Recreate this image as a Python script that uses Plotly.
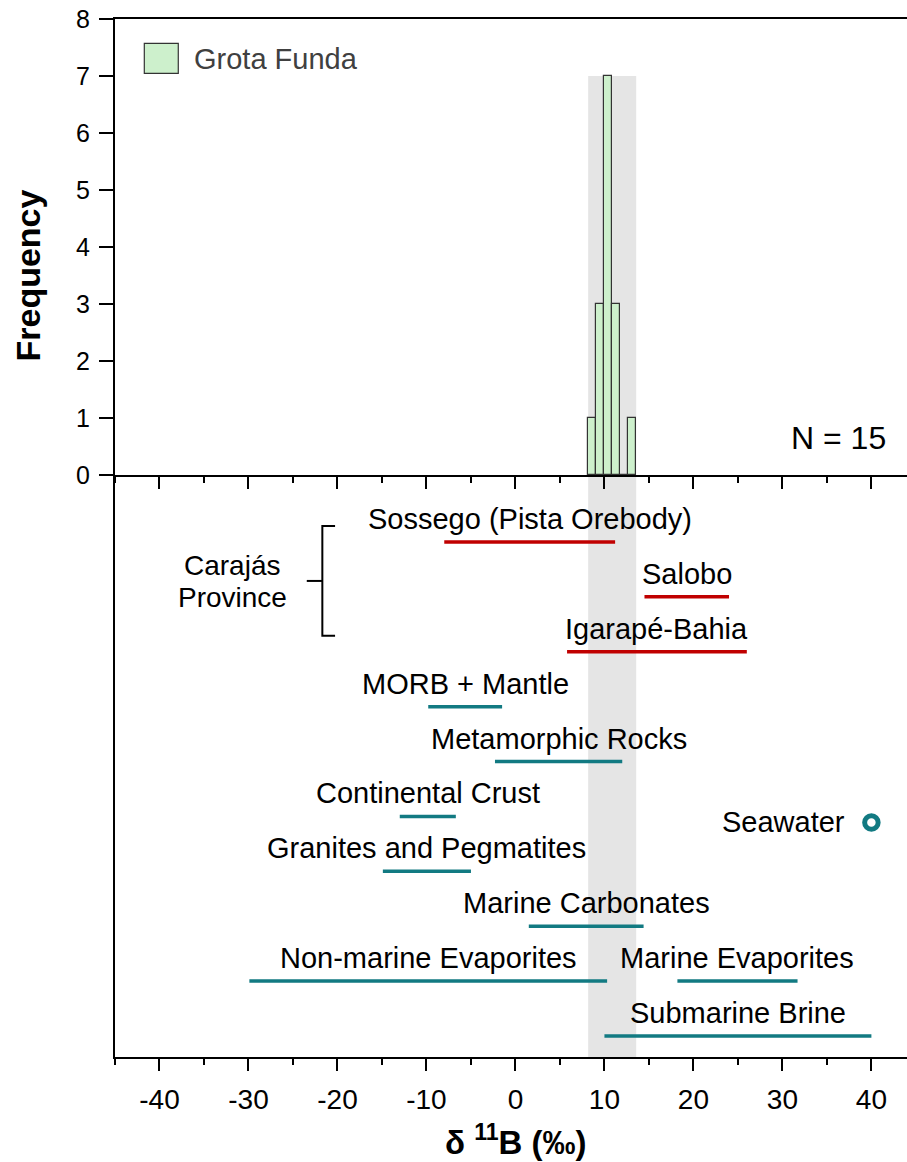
import plotly.graph_objects as go

# --- Grota Funda histogram (delta 11B, permil) ---
bin_edges = [8.17, 9.07, 9.97, 10.87, 11.77, 12.67, 13.57]
bin_counts = [1, 3, 7, 3, 0, 1]
n_total = 15

# --- reference reservoirs: name, low, high, row level ---
carajas_names = ["Sossego (Pista Orebody)", "Salobo", "Igarapé-Bahia"]
carajas_lo = [-8.0, 14.5, 5.8]
carajas_hi = [11.2, 24.0, 26.0]
carajas_level = [10, 9, 8]

reservoir_names = ["MORB + Mantle", "Metamorphic Rocks", "Continental Crust",
                   "Granites and Pegmatites", "Marine Carbonates",
                   "Non-marine Evaporites", "Marine Evaporites", "Submarine Brine"]
reservoir_lo = [-9.8, -2.3, -13.0, -14.9, 1.5, -29.9, 18.2, 10.0]
reservoir_hi = [-1.5, 12.0, -6.7, -5.0, 14.4, 10.3, 31.7, 40.0]
reservoir_level = [7, 6, 5, 4, 3, 2, 2, 1]

seawater_value = 40.0
seawater_level = 4.89

# x tick values and their labels (plain hyphen for negatives)
x_tick_vals = [-40, -30, -20, -10, 0, 10, 20, 30, 40]
x_tick_text = ["-40", "-30", "-20", "-10", "0", "10", "20", "30", "40"]

RED = "#c00000"
TEAL = "#127a82"
GREEN = "#cdf0cc"
BAND = "#e5e5e5"
FONT = "Liberation Sans, Arial, sans-serif"
LABEL_SIZE = 29

centers = [(a + b) / 2 for a, b in zip(bin_edges[:-1], bin_edges[1:])]
widths = [b - a for a, b in zip(bin_edges[:-1], bin_edges[1:])]

fig = go.Figure()

fig.add_trace(go.Bar(
    x=centers, y=bin_counts, width=widths,
    marker=dict(color=GREEN, line=dict(color="#333333", width=1.2)),
    xaxis="x", yaxis="y", showlegend=False, hoverinfo="skip",
))

annotations = []


def add_range(name, lo, hi, level, color):
    fig.add_trace(go.Scatter(
        x=[lo, hi], y=[level, level], mode="lines",
        line=dict(color=color, width=3.5),
        xaxis="x2", yaxis="y2", showlegend=False, hoverinfo="skip",
    ))
    annotations.append(dict(
        x=(lo + hi) / 2, y=level, xref="x2", yref="y2",
        text=name, showarrow=False, yanchor="bottom", yshift=5,
        font=dict(size=LABEL_SIZE, color="black", family=FONT),
    ))


for n, lo, hi, lv in zip(carajas_names, carajas_lo, carajas_hi, carajas_level):
    add_range(n, lo, hi, lv, RED)
for n, lo, hi, lv in zip(reservoir_names, reservoir_lo, reservoir_hi, reservoir_level):
    add_range(n, lo, hi, lv, TEAL)

fig.add_trace(go.Scatter(
    x=[seawater_value], y=[seawater_level], mode="markers",
    marker=dict(symbol="circle-open", size=13.5, color=TEAL, line=dict(width=5, color=TEAL)),
    xaxis="x2", yaxis="y2", showlegend=False, hoverinfo="skip",
))
annotations.append(dict(
    x=seawater_value, y=seawater_level, xref="x2", yref="y2", text="Seawater",
    showarrow=False, xanchor="right", xshift=-24, yanchor="middle",
    font=dict(size=LABEL_SIZE, color="black", family=FONT),
))

# Carajás bracket label
annotations += [
    dict(x=-31.8, y=9.57, xref="x2", yref="y2", text="Carajás", showarrow=False,
         font=dict(size=LABEL_SIZE - 1, color="black", family=FONT)),
    dict(x=-31.8, y=8.98, xref="x2", yref="y2", text="Province", showarrow=False,
         font=dict(size=LABEL_SIZE - 1, color="black", family=FONT)),
]

# legend entry, N label and axis titles
annotations += [
    dict(x=0.0968, y=0.9615, xref="paper", yref="paper", text="Grota Funda",
         showarrow=False, xanchor="left", yanchor="middle",
         font=dict(size=29, color="#404040", family=FONT)),
    dict(x=0.976, y=0.5963, xref="paper", yref="paper", text=f"N = {n_total}",
         showarrow=False, xanchor="right", yanchor="middle",
         font=dict(size=32, color="black", family=FONT)),
    dict(x=-0.1098, y=0.7529, xref="paper", yref="paper", text="<b>Frequency</b>",
         showarrow=False, textangle=-90, xanchor="center", yanchor="middle",
         font=dict(size=34, color="black", family=FONT)),
    dict(x=0.5063, y=-0.08, xref="paper", yref="paper",
         text="<b>δ <sup>11</sup>B (‰)</b>",
         showarrow=False, xanchor="center", yanchor="middle",
         font=dict(size=33, color="black", family=FONT)),
]

band_lo = bin_edges[0]
band_hi = bin_edges[-1]
shapes = [
    dict(type="rect", xref="x", yref="y", x0=band_lo, x1=band_hi, y0=0, y1=max(bin_counts),
         fillcolor=BAND, line=dict(width=0), layer="below"),
    dict(type="rect", xref="x2", yref="y2 domain", x0=band_lo, x1=band_hi, y0=0, y1=1,
         fillcolor=BAND, line=dict(width=0), layer="below"),
    # bracket grouping the Carajás deposits
    dict(type="path", xref="x2", yref="y2",
         path="M -20.27,10.29 L -21.7,10.29 L -21.7,8.29 L -20.27,8.29",
         line=dict(color="black", width=2)),
    dict(type="line", xref="x2", yref="y2", x0=-23.45, x1=-21.7, y0=9.29, y1=9.29,
         line=dict(color="black", width=2)),
    # legend swatch
    dict(type="rect", xref="paper", yref="paper", x0=0.037, x1=0.0799, y0=0.9477, y1=0.9766,
         fillcolor=GREEN, line=dict(color="#333333", width=1.2)),
]

x_common = dict(
    range=[-45, 44], tickmode="array", tickvals=x_tick_vals, ticktext=x_tick_text,
    ticks="outside", ticklen=12, tickwidth=2,
    tickcolor="black", showline=True, linecolor="black", linewidth=2,
    showgrid=False, zeroline=False,
    minor=dict(dtick=5, tick0=0, ticks="outside", ticklen=6, tickwidth=2, tickcolor="black"),
)

split = 0.5607
fig.update_layout(
    width=907, height=1162,
    margin=dict(l=115, r=0, t=19, b=105, autoexpand=False),
    paper_bgcolor="white", plot_bgcolor="white",
    bargap=0, showlegend=False,
    xaxis=dict(**x_common, anchor="y", showticklabels=False, mirror=True),
    yaxis=dict(domain=[split, 1], range=[0, 8], dtick=1, ticks="outside", ticklen=14,
               tickwidth=2, tickcolor="black", showline=True, linecolor="black",
               linewidth=2, showgrid=False, zeroline=False, ticklabelstandoff=4,
               tickfont=dict(size=25, color="black", family=FONT)),
    xaxis2=dict(**x_common, anchor="y2", matches="x", ticklabelstandoff=4,
                tickfont=dict(size=28, color="black", family=FONT)),
    yaxis2=dict(domain=[0, split], range=[0.6175, 11.22], showline=True, linecolor="black",
                linewidth=2, showticklabels=False, ticks="", showgrid=False, zeroline=False),
    annotations=annotations,
    shapes=shapes,
)

fig.write_html("out.html")
